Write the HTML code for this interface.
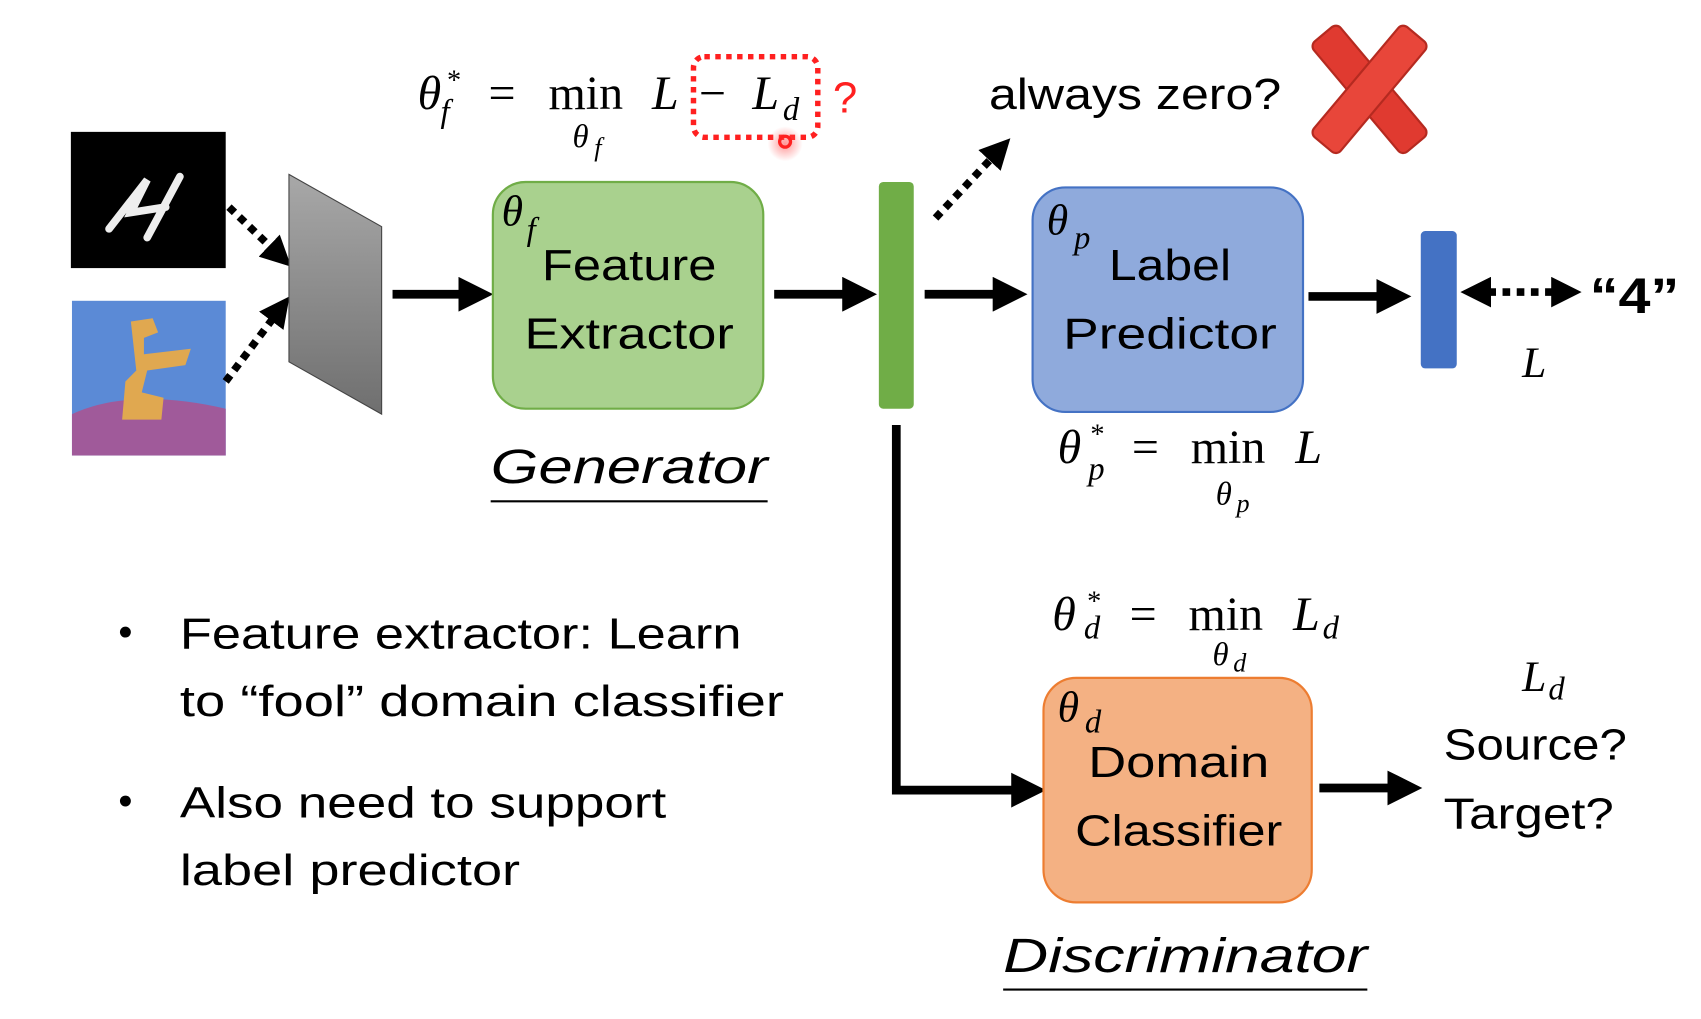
<!DOCTYPE html>
<html><head><meta charset="utf-8"><style>
html,body{margin:0;padding:0;background:#fff;width:1701px;height:1019px;overflow:hidden}
svg{display:block}
.s{font-family:"Liberation Sans",sans-serif;fill:#000}
.m{font-family:"Liberation Serif",serif;fill:#000}
</style></head><body>
<svg width="1701" height="1019" viewBox="0 0 1560 935" preserveAspectRatio="none" xmlns="http://www.w3.org/2000/svg">
<defs>
<marker id="ah" markerWidth="4" markerHeight="4" refX="2.2" refY="2" orient="auto" markerUnits="strokeWidth"><path d="M0,0 L4,2 L0,4 z" fill="#000"/></marker>
<marker id="ahs" markerWidth="4" markerHeight="4" refX="2.2" refY="2" orient="auto-start-reverse" markerUnits="strokeWidth"><path d="M0,0 L4,2 L0,4 z" fill="#000"/></marker>
<linearGradient id="gg" x1="0" y1="0" x2="0" y2="1"><stop offset="0" stop-color="#a8a8a8"/><stop offset="1" stop-color="#6f6f6f"/></linearGradient>
<radialGradient id="rg"><stop offset="0" stop-color="#ff5050" stop-opacity=".6"/><stop offset="1" stop-color="#ff5050" stop-opacity="0"/></radialGradient>
</defs>
<rect x="65" y="121" width="142" height="125" fill="#000"/>
<path d="M100,210 L135,165 L120,195 L152,190 M165,162 L135,218" stroke="#eee" stroke-width="7" fill="none" stroke-linecap="round"/>
<rect x="66" y="276" width="141" height="142" fill="#5b8ad6"/>
<path d="M66,380 Q120,355 207,375 L207,418 L66,418 z" fill="#a05a9a"/>
<path d="M120,295 L140,292 L145,305 L132,310 L132,325 L175,320 L170,335 L135,340 L130,360 L150,365 L148,385 L112,385 L115,350 L125,340 z" fill="#e0a850"/>
<line x1="210" y1="190" x2="258" y2="236" stroke="#000" stroke-width="7" stroke-dasharray="7,6" marker-end="url(#ah)"/>
<line x1="207" y1="350" x2="258" y2="282" stroke="#000" stroke-width="7" stroke-dasharray="7,6" marker-end="url(#ah)"/>
<polygon points="265,160 350,208 350,380 265,332" fill="url(#gg)" stroke="#444" stroke-width="1"/>
<line x1="360" y1="270" x2="438" y2="270" stroke="#000" stroke-width="8" marker-end="url(#ah)"/>
<rect x="452" y="167" width="248" height="208" rx="30" fill="#a9d18e" stroke="#70ad47" stroke-width="2"/>
<text class="m" x="460" y="207" font-size="40" font-style="italic">θ</text><text class="m" x="483" y="220" font-size="30" font-style="italic">f</text>
<text class="s" x="577" y="257" font-size="40" text-anchor="middle" textLength="160" lengthAdjust="spacingAndGlyphs">Feature</text>
<text class="s" x="577" y="320" font-size="40" text-anchor="middle" textLength="192" lengthAdjust="spacingAndGlyphs">Extractor</text>
<text class="s" x="450" y="443" font-size="44" font-style="italic" textLength="254" lengthAdjust="spacingAndGlyphs">Generator</text>
<line x1="450" y1="460" x2="704" y2="460" stroke="#000" stroke-width="2"/>
<line x1="710" y1="270" x2="790" y2="270" stroke="#000" stroke-width="8" marker-end="url(#ah)"/>
<rect x="806" y="167" width="32" height="208" rx="4" fill="#70ad47"/>
<line x1="848" y1="270" x2="928" y2="270" stroke="#000" stroke-width="8" marker-end="url(#ah)"/>
<line x1="858" y1="200" x2="918" y2="136" stroke="#000" stroke-width="7" stroke-dasharray="7,6" marker-end="url(#ah)"/>
<rect x="947" y="172" width="248" height="206" rx="30" fill="#8faadc" stroke="#4472c4" stroke-width="2"/>
<text class="m" x="960" y="215" font-size="40" font-style="italic">θ</text><text class="m" x="985" y="228" font-size="30" font-style="italic">p</text>
<text class="s" x="1073" y="257" font-size="40" text-anchor="middle" textLength="112" lengthAdjust="spacingAndGlyphs">Label</text>
<text class="s" x="1073" y="320" font-size="40" text-anchor="middle" textLength="196" lengthAdjust="spacingAndGlyphs">Predictor</text>
<line x1="1200" y1="272" x2="1280" y2="272" stroke="#000" stroke-width="8" marker-end="url(#ah)"/>
<rect x="1303" y="212" width="33" height="126" rx="4" fill="#4472c4"/>
<line x1="1352" y1="268" x2="1438" y2="268" stroke="#000" stroke-width="7" stroke-dasharray="7,6" marker-start="url(#ahs)" marker-end="url(#ah)"/>
<text class="s" x="1458" y="287" font-size="46" font-weight="bold" textLength="82" lengthAdjust="spacingAndGlyphs">“4”</text>
<text class="m" x="1396" y="346" font-size="40" font-style="italic">L</text>
<text class="m" x="970" y="425" font-size="44" font-style="italic">θ</text><text class="m" x="1000" y="407" font-size="26">*</text><text class="m" x="998" y="440" font-size="30" font-style="italic">p</text>
<text class="m" x="1038" y="425" font-size="44">=</text><text class="m" x="1092" y="425" font-size="44">min</text><text class="m" x="1188" y="425" font-size="44" font-style="italic">L</text>
<text class="m" x="1115" y="463" font-size="30" font-style="italic">θ</text><text class="m" x="1134" y="470" font-size="24" font-style="italic">p</text>
<polyline points="822,390 822,725 945,725" fill="none" stroke="#000" stroke-width="8" marker-end="url(#ah)"/>
<text class="m" x="965" y="578" font-size="44" font-style="italic">θ</text><text class="m" x="997" y="560" font-size="26">*</text><text class="m" x="994" y="586" font-size="30" font-style="italic">d</text>
<text class="m" x="1036" y="578" font-size="44">=</text><text class="m" x="1090" y="578" font-size="44">min</text><text class="m" x="1186" y="578" font-size="44" font-style="italic">L</text><text class="m" x="1213" y="586" font-size="30" font-style="italic">d</text>
<text class="m" x="1112" y="610" font-size="30" font-style="italic">θ</text><text class="m" x="1131" y="616" font-size="24" font-style="italic">d</text>
<rect x="957" y="622" width="246" height="206" rx="30" fill="#f4b183" stroke="#ed7d31" stroke-width="2"/>
<text class="m" x="970" y="662" font-size="40" font-style="italic">θ</text><text class="m" x="995" y="672" font-size="30" font-style="italic">d</text>
<text class="s" x="1081" y="713" font-size="40" text-anchor="middle" textLength="166" lengthAdjust="spacingAndGlyphs">Domain</text>
<text class="s" x="1081" y="776" font-size="40" text-anchor="middle" textLength="190" lengthAdjust="spacingAndGlyphs">Classifier</text>
<line x1="1210" y1="723" x2="1290" y2="723" stroke="#000" stroke-width="8" marker-end="url(#ah)"/>
<text class="m" x="1396" y="634" font-size="40" font-style="italic">L</text><text class="m" x="1420" y="642" font-size="30" font-style="italic">d</text>
<text class="s" x="1324" y="697" font-size="40" textLength="168" lengthAdjust="spacingAndGlyphs">Source?</text>
<text class="s" x="1324" y="760" font-size="40" textLength="156" lengthAdjust="spacingAndGlyphs">Target?</text>
<text class="s" x="920" y="892" font-size="44" font-style="italic" textLength="334" lengthAdjust="spacingAndGlyphs">Discriminator</text>
<line x1="920" y1="908" x2="1254" y2="908" stroke="#000" stroke-width="2"/>
<circle cx="115" cy="580" r="5" fill="#000"/><circle cx="115" cy="735" r="5" fill="#000"/>
<text class="s" x="165" y="595" font-size="40" textLength="515" lengthAdjust="spacingAndGlyphs">Feature extractor: Learn</text>
<text class="s" x="165" y="657" font-size="40" textLength="554" lengthAdjust="spacingAndGlyphs">to “fool” domain classifier</text>
<text class="s" x="165" y="750" font-size="40" textLength="446" lengthAdjust="spacingAndGlyphs">Also need to support</text>
<text class="s" x="165" y="812" font-size="40" textLength="312" lengthAdjust="spacingAndGlyphs">label predictor</text>
<text class="m" x="383" y="100" font-size="44" font-style="italic">θ</text><text class="m" x="410" y="82" font-size="26">*</text><text class="m" x="404" y="112" font-size="30" font-style="italic">f</text>
<text class="m" x="448" y="100" font-size="44">=</text><text class="m" x="503" y="100" font-size="44">min</text><text class="m" x="598" y="100" font-size="44" font-style="italic">L</text>
<text class="m" x="525" y="135" font-size="30" font-style="italic">θ</text><text class="m" x="545" y="143" font-size="24" font-style="italic">f</text>
<text class="m" x="641" y="100" font-size="44">−</text><text class="m" x="690" y="100" font-size="44" font-style="italic">L</text><text class="m" x="718" y="110" font-size="30" font-style="italic">d</text>
<rect x="636" y="52" width="114" height="74" rx="10" fill="none" stroke="#ff2020" stroke-width="5" stroke-dasharray="5,5"/>
<text class="s" x="764" y="103" font-size="40" style="fill:#ff2020">?</text>
<circle cx="720" cy="132" r="16" fill="url(#rg)"/><circle cx="720" cy="130" r="5" fill="none" stroke="#ff2020" stroke-width="3"/>
<text class="s" x="907" y="100" font-size="40" textLength="268" lengthAdjust="spacingAndGlyphs">always zero?</text>
<g transform="translate(1256,82)">
<rect x="-66" y="-16" width="132" height="32" rx="6" fill="#e03a30" stroke="#b52a20" stroke-width="2" transform="rotate(50)"/>
<rect x="-66" y="-16" width="132" height="32" rx="6" fill="#e8463a" stroke="#b52a20" stroke-width="2" transform="rotate(-50)"/>
</g>
</svg>
</body></html>
